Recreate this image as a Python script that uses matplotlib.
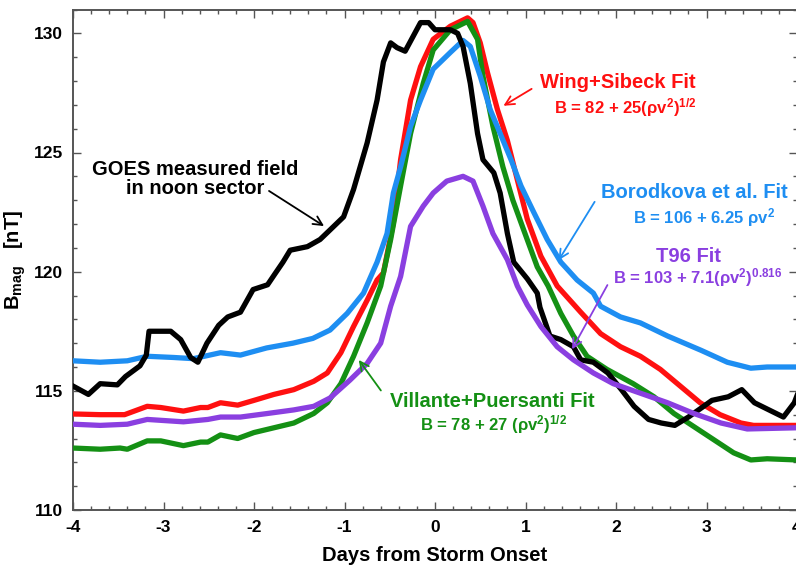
import matplotlib
matplotlib.use("Agg")
import matplotlib.pyplot as plt
from matplotlib.ticker import MultipleLocator

plt.rcParams['font.family'] = ['Liberation Sans', 'DejaVu Sans']
plt.rcParams['font.weight'] = 'bold'
plt.rcParams['mathtext.fontset'] = 'custom'
plt.rcParams['mathtext.rm'] = 'Liberation Sans:bold'
plt.rcParams['mathtext.it'] = 'Liberation Sans:bold'
plt.rcParams['mathtext.bf'] = 'Liberation Sans:bold'

# ---- data ----
goes_x = [-4.00, -3.83, -3.70, -3.51, -3.42, -3.26, -3.19, -3.16, -2.92, -2.81, -2.70, -2.62,
          -2.52, -2.39, -2.29, -2.15, -2.01, -1.85, -1.77, -1.68, -1.60, -1.41, -1.27, -1.16,
          -1.01, -0.90, -0.75, -0.64, -0.57, -0.49, -0.42, -0.33, -0.16, -0.07, 0.00, 0.17,
          0.25, 0.31, 0.39, 0.47, 0.53, 0.65, 0.72, 0.80, 0.87, 1.02, 1.13, 1.16, 1.27, 1.39,
          1.53, 1.61, 1.75, 1.91, 2.06, 2.20, 2.36, 2.50, 2.65, 2.80, 2.95, 3.06, 3.24, 3.39,
          3.53, 3.69, 3.85, 3.97, 4.0]
goes_y = [115.2, 114.85, 115.3, 115.25, 115.6, 116.05, 116.5, 117.5, 117.5, 117.15, 116.4, 116.2,
          117.0, 117.75, 118.1, 118.3, 119.25, 119.45, 119.9, 120.4, 120.9, 121.05, 121.35, 121.75,
          122.3, 123.45, 125.4, 127.2, 128.8, 129.6, 129.4, 129.25, 130.45, 130.45, 130.15, 130.15,
          130.0, 129.45, 127.9, 125.8, 124.7, 124.15, 123.3, 121.6, 120.4, 119.7, 119.1, 118.5,
          117.3, 117.15, 116.85, 116.3, 116.2, 115.75, 115.05, 114.35, 113.8, 113.65, 113.55,
          113.9, 114.3, 114.6, 114.75, 115.05, 114.5, 114.2, 113.9, 114.5, 114.8]

boro_x = [-4.0, -3.70, -3.40, -3.18, -2.89, -2.67, -2.37, -2.15, -1.86, -1.57, -1.35, -1.16,
          -0.97, -0.79, -0.64, -0.53, -0.46, -0.38, -0.27, -0.16, -0.02, 0.17, 0.31, 0.39,
          0.50, 0.61, 0.72, 0.84, 0.95, 1.09, 1.24, 1.39, 1.57, 1.75, 1.83, 2.05, 2.27, 2.57,
          2.94, 3.23, 3.49, 3.67, 4.0]
boro_y = [116.26, 116.2, 116.26, 116.45, 116.4, 116.35, 116.6, 116.5, 116.8, 117.0, 117.2, 117.55,
          118.25, 119.1, 120.4, 121.6, 123.3, 124.4, 126.1, 127.2, 128.5, 129.2, 129.7, 129.45,
          128.2, 126.8, 125.8, 124.7, 123.6, 122.5, 121.35, 120.4, 119.65, 119.1, 118.55, 118.1,
          117.85, 117.3, 116.7, 116.2, 115.95, 116.0, 116.0]

wing_x = [-4.0, -3.70, -3.43, -3.18, -3.03, -2.78, -2.59, -2.51, -2.37, -2.18, -2.00, -1.78,
          -1.56, -1.34, -1.19, -1.04, -0.90, -0.75, -0.64, -0.57, -0.46, -0.38, -0.27, -0.16,
          -0.02, 0.17, 0.36, 0.42, 0.50, 0.58, 0.69, 0.80, 0.91, 1.02, 1.17, 1.35, 1.61, 1.83,
          2.05, 2.27, 2.49, 2.71, 2.93, 3.15, 3.38, 3.52, 4.0]
wing_y = [114.03, 114.0, 114.0, 114.35, 114.3, 114.15, 114.3, 114.3, 114.5, 114.4, 114.6, 114.85,
          115.05, 115.4, 115.75, 116.6, 117.7, 118.8, 119.65, 119.95, 122.05, 124.7, 127.2, 128.6,
          129.75, 130.3, 130.65, 130.45, 129.6, 128.35, 126.8, 125.5, 123.85, 122.2, 120.65, 119.4,
          118.3, 117.4, 116.85, 116.45, 115.9, 115.2, 114.5, 114.0, 113.65, 113.55, 113.55]

vill_x = [-4.0, -3.70, -3.48, -3.40, -3.18, -3.03, -2.78, -2.59, -2.51, -2.37, -2.18, -2.00,
          -1.78, -1.56, -1.34, -1.19, -1.04, -0.90, -0.75, -0.60, -0.49, -0.38, -0.27, -0.13,
          -0.02, 0.17, 0.36, 0.47, 0.53, 0.64, 0.75, 0.86, 0.98, 1.13, 1.25, 1.39, 1.53, 1.68,
          1.90, 2.19, 2.42, 2.64, 2.86, 3.08, 3.30, 3.49, 3.67, 4.0]
vill_y = [112.6, 112.55, 112.6, 112.55, 112.9, 112.9, 112.7, 112.85, 112.85, 113.15, 113.0, 113.25,
          113.45, 113.65, 114.05, 114.5, 115.3, 116.45, 117.85, 119.4, 121.35, 123.6, 125.8, 127.9,
          129.3, 130.15, 130.5, 129.75, 128.2, 126.1, 124.4, 123.0, 121.75, 120.2, 119.4, 118.25,
          117.3, 116.45, 115.9, 115.3, 114.75, 114.05, 113.5, 112.95, 112.4, 112.1, 112.15, 112.1]

t96_x = [-4.0, -3.70, -3.40, -3.18, -2.78, -2.51, -2.37, -2.15, -1.85, -1.56, -1.34, -1.16,
         -0.94, -0.75, -0.60, -0.49, -0.38, -0.27, -0.13, -0.02, 0.13, 0.31, 0.42, 0.53,
         0.64, 0.80, 0.91, 1.02, 1.17, 1.35, 1.53, 1.75, 1.97, 2.27, 2.57, 2.86, 3.16, 3.45, 4.0]
t96_y = [113.6, 113.55, 113.6, 113.8, 113.7, 113.8, 113.9, 113.9, 114.05, 114.2, 114.35, 114.7,
         115.45, 116.15, 117.0, 118.55, 119.8, 121.9, 122.75, 123.3, 123.8, 124.0, 123.8, 122.75,
         121.6, 120.5, 119.4, 118.6, 117.7, 116.85, 116.3, 115.75, 115.3, 114.9, 114.5, 114.05,
         113.65, 113.4, 113.45]

x_ticks = [-4, -3, -2, -1, 0, 1, 2, 3, 4]
y_ticks = [110, 115, 120, 125, 130]

RED = '#ff1010'
BLUE = '#1e8ef2'
GREEN = '#149014'
PURPLE = '#8a3fe0'

fig = plt.figure(figsize=(7.96, 5.68), dpi=100)
ax = fig.add_axes([73 / 796, 1 - 510 / 568, 724 / 796, 500.5 / 568])

lw = 3.8
ax.plot(wing_x, wing_y, color=RED, lw=lw, solid_joinstyle='round', zorder=3)
ax.plot(vill_x, vill_y, color=GREEN, lw=lw, solid_joinstyle='round', zorder=4)
ax.plot(boro_x, boro_y, color=BLUE, lw=lw, solid_joinstyle='round', zorder=5)
ax.plot(goes_x, goes_y, color='black', lw=lw, solid_joinstyle='round', zorder=6)
ax.plot(t96_x, t96_y, color=PURPLE, lw=lw, solid_joinstyle='round', zorder=7)

ax.set_xlim(-4, 4)
ax.set_ylim(110, 131)
ax.set_xticks(x_ticks)
ax.set_yticks(y_ticks)
ax.set_xticklabels([str(v) for v in x_ticks])
ax.set_yticklabels([str(v) for v in y_ticks])
ax.xaxis.set_minor_locator(MultipleLocator(0.2))
ax.yaxis.set_minor_locator(MultipleLocator(1))
ax.tick_params(which='both', direction='in', top=True, right=True, color='#555555', width=1.0)
ax.tick_params(which='major', length=6, labelsize=12.5, pad=7)
ax.tick_params(which='minor', length=3)
for lab in ax.get_xticklabels() + ax.get_yticklabels():
    lab.set_fontweight('bold')
for s in ax.spines.values():
    s.set_color('#555555')
    s.set_linewidth(1.4)

ax.set_xlabel('Days from Storm Onset', fontsize=14.5, fontweight='bold', labelpad=8)
ax.set_ylabel(r'B$_{\mathregular{mag}}$   [nT]', fontsize=14.5, fontweight='bold', labelpad=4)

# annotations
fs_t = 14.5
fs_f = 12
ax.text(-2.655, 123.9, 'GOES measured field\nin noon sector', ha='center', va='center',
        fontsize=fs_t, fontweight='bold', color='black', linespacing=1.0, zorder=10)
ax.annotate('', xy=(-1.20, 121.85), xytext=(-1.86, 123.45),
            arrowprops=dict(arrowstyle='->', color='black', lw=1.3, mutation_scale=16), zorder=10)

ax.text(2.02, 127.94, 'Wing+Sibeck Fit', ha='center', va='center', fontsize=fs_t,
        fontweight='bold', color=RED)
ax.text(2.10, 126.9, r'B = 82 + 25($\rho$v$^2$)$^{1/2}$', ha='center', va='center', fontsize=fs_f,
        fontweight='bold', color=RED)
ax.annotate('', xy=(0.73, 126.9), xytext=(1.094, 127.73),
            arrowprops=dict(arrowstyle='->', color=RED, lw=1.3, mutation_scale=16), zorder=10)

ax.text(2.87, 123.32, 'Borodkova et al. Fit', ha='center', va='center', fontsize=fs_t,
        fontweight='bold', color=BLUE)
ax.text(2.97, 122.27, r'B = 106 + 6.25 $\rho$v$^2$', ha='center', va='center', fontsize=fs_f,
        fontweight='bold', color=BLUE)
ax.annotate('', xy=(1.35, 120.38), xytext=(1.78, 123.03),
            arrowprops=dict(arrowstyle='->', color=BLUE, lw=1.3, mutation_scale=16), zorder=10)

ax.text(2.80, 120.63, 'T96 Fit', ha='center', va='center', fontsize=fs_t,
        fontweight='bold', color=PURPLE)
ax.text(2.90, 119.75, r'B = 103 + 7.1($\rho$v$^2$)$^{0.816}$', ha='center', va='center',
        fontsize=fs_f, fontweight='bold', color=PURPLE)
ax.annotate('', xy=(1.50, 116.64), xytext=(1.92, 119.54),
            arrowprops=dict(arrowstyle='->', color=PURPLE, lw=1.3, mutation_scale=16), zorder=10)

ax.text(0.63, 114.54, 'Villante+Puersanti Fit', ha='center', va='center', fontsize=fs_t,
        fontweight='bold', color=GREEN)
ax.text(0.65, 113.57, r'B = 78 + 27 ($\rho$v$^2$)$^{1/2}$', ha='center', va='center',
        fontsize=fs_f, fontweight='bold', color=GREEN)
ax.annotate('', xy=(-0.86, 116.39), xytext=(-0.58, 114.92),
            arrowprops=dict(arrowstyle='->', color=GREEN, lw=1.3, mutation_scale=16), zorder=10)

fig.savefig('out.png', dpi=100)
